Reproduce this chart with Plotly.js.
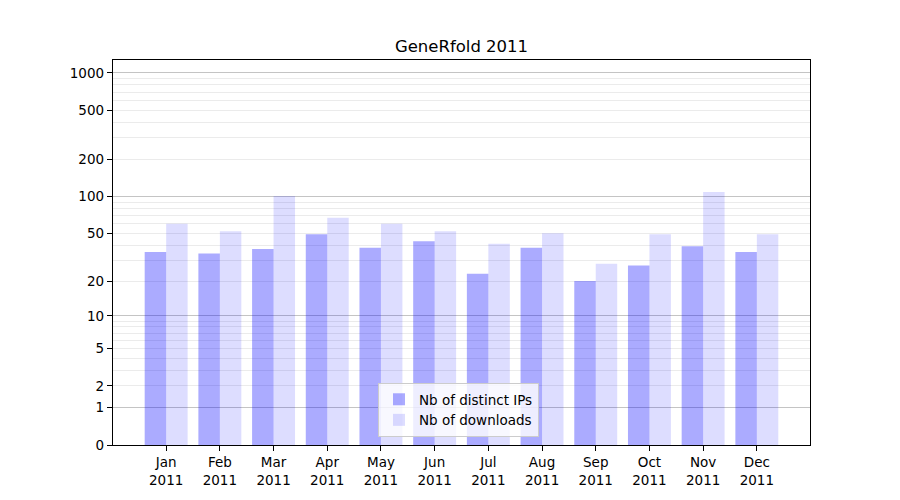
<!DOCTYPE html>
<html>
<head>
<meta charset="utf-8">
<script src="https://cdn.plot.ly/plotly-3.0.1.min.js"></script>
<style>html,body{margin:0;padding:0;background:#fff;}#chart{width:900px;height:500px;}</style>
</head>
<body>
<div id="chart"></div>
<script>
// Data
const months = ["Jan","Feb","Mar","Apr","May","Jun","Jul","Aug","Sep","Oct","Nov","Dec"];
const year = "2011";
const distinctIPs = [35, 34, 37, 49, 38, 43, 23, 38, 20, 27, 39, 35];
const downloads   = [60, 52, 101, 67, 60, 52, 41, 50, 28, 49, 109, 49];
const yTickLabels = [0, 1, 2, 5, 10, 20, 50, 100, 200, 500, 1000];
const yMajorGrid  = [1, 10, 100, 1000];
const yMinorGrid  = [2,3,4,5,6,7,8,9,20,30,40,50,60,70,80,90,200,300,400,500,600,700,800,900];

// symmetric-log style axis: value v is placed at log10(1+v)
const pos = v => v + 1;
const xIdx = months.map((m, i) => i);
const xLabels = months.map(m => m + "<br>" + year);

const font = {family: "DejaVu Sans, sans-serif", color: "#000"};

const traces = [
  {type: "bar", name: "Nb of distinct IPs", x: xIdx, y: distinctIPs, base: 1,
   marker: {color: "rgba(0,0,255,0.33)", line: {width: 0}}, hoverinfo: "y"},
  {type: "bar", name: "Nb of downloads", x: xIdx, y: downloads, base: 1,
   marker: {color: "rgba(0,0,255,0.135)", line: {width: 0}}, hoverinfo: "y"},
  // invisible helper trace to activate the overlay axis for major gridlines
  {type: "scatter", x: [0], y: [1], yaxis: "y2", mode: "markers",
   marker: {opacity: 0}, showlegend: false, hoverinfo: "skip"}
];

const yRange = [0, 3.105];

const layout = {
  width: 900, height: 500,
  margin: {l: 113, r: 90, t: 60, b: 55},
  paper_bgcolor: "#fff", plot_bgcolor: "rgba(0,0,0,0)",
  font: Object.assign({size: 13.5}, font),
  title: {text: "GeneRfold 2011", font: Object.assign({size: 16.5}, font),
          x: (113 + 810) / 2 / 900, xanchor: "center", y: 1 - 46 / 500, yanchor: "middle"},
  barmode: "group", bargap: 0.2, bargroupgap: 0,
  xaxis: {
    range: [-0.99, 11.99], tickmode: "array", tickvals: xIdx, ticktext: xLabels,
    ticks: "outside", ticklen: 5, tickwidth: 1, tickcolor: "#000",
    showgrid: false, zeroline: false,
    showline: true, linecolor: "#000", linewidth: 1.2, mirror: true,
    tickfont: Object.assign({size: 13.5}, font)
  },
  yaxis: {
    type: "log", range: yRange,
    tickmode: "array", tickvals: yTickLabels.map(pos), ticktext: yTickLabels.map(String),
    ticks: "outside", ticklen: 5, tickwidth: 1, tickcolor: "#000",
    showgrid: true, gridcolor: "#ebebeb", gridwidth: 1,
    minor: {tickmode: "array", tickvals: yMinorGrid.map(pos), showgrid: true,
            gridcolor: "#ebebeb", gridwidth: 1, ticks: ""},
    zeroline: false,
    showline: true, linecolor: "#000", linewidth: 1.2, mirror: true,
    tickfont: Object.assign({size: 13.5}, font)
  },
  yaxis2: {
    type: "log", range: yRange, overlaying: "y", side: "left",
    tickmode: "array", tickvals: yMajorGrid.map(pos), showticklabels: false, ticks: "",
    showgrid: true, gridcolor: "#c4c4c4", gridwidth: 1, zeroline: false, showline: false
  },
  legend: {
    x: (378 - 113) / 697, y: (445 - 437) / 385, xanchor: "left", yanchor: "bottom",
    bgcolor: "rgba(255,255,255,0.8)", bordercolor: "#cccccc", borderwidth: 1,
    font: Object.assign({size: 13.5}, font), tracegroupgap: 2
  },
  showlegend: true
};

Plotly.newPlot("chart", traces, layout, {staticPlot: true, displayModeBar: false});
</script>
</body>
</html>
